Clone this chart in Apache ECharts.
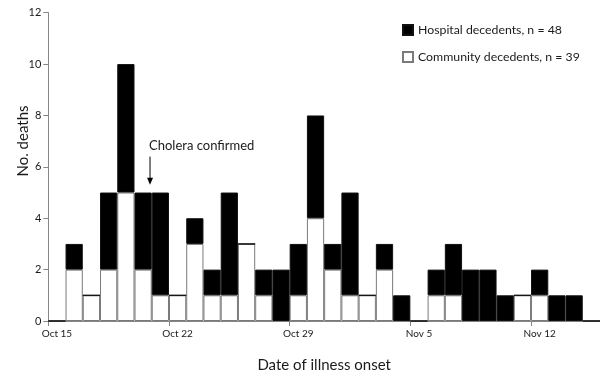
<!DOCTYPE html>
<html><head><meta charset="utf-8">
<script src="https://cdn.jsdelivr.net/npm/echarts@6/dist/echarts.min.js"></script>
<style>html,body{margin:0;padding:0;background:#fff}#c{width:600px;height:378px}</style>
</head><body><div id="c"></div>
<script>
// Days from Oct 15 to Nov 15 (one slot per day; Nov 15 slot is empty)
var days = ['Oct 15','Oct 16','Oct 17','Oct 18','Oct 19','Oct 20','Oct 21','Oct 22','Oct 23','Oct 24','Oct 25','Oct 26','Oct 27','Oct 28','Oct 29','Oct 30','Oct 31','Nov 1','Nov 2','Nov 3','Nov 4','Nov 5','Nov 6','Nov 7','Nov 8','Nov 9','Nov 10','Nov 11','Nov 12','Nov 13','Nov 14','Nov 15'];
var community = [0,2,1,2,5,2,1,1,3,1,1,3,1,0,1,4,2,1,1,2,0,0,1,1,0,0,0,1,1,0,0,0];
var hospital  = [0,1,0,3,5,3,4,0,1,1,4,0,1,2,2,4,1,4,0,1,1,0,1,2,2,2,1,0,1,1,1,0];
var legendNames = ['Hospital decedents, n = 48','Community decedents, n = 39'];
var annotationText = 'Cholera confirmed';
var yTitle = 'No. deaths';

var FONT = 'Lato';
var axisGray = '#868686';
var textColor = '#1a1a1a';

var chart = echarts.init(document.getElementById('c'), null, {renderer:'canvas'});
chart.setOption({
  animation:false,
  backgroundColor:'#fff',
  textStyle:{fontFamily:FONT},
  grid:{left:48.3, right:-4.5, top:12.7, bottom:56.7, containLabel:false},
  legend:{
    orient:'vertical', left:397, top:18.5, itemWidth:10, itemHeight:10, itemGap:14,
    icon:'rect', data:[legendNames[0], legendNames[1]],
    textStyle:{fontFamily:FONT, fontSize:12.3, lineHeight:13, color:textColor}
  },
  xAxis:{
    type:'category', data:days, boundaryGap:true,
    name:'Date of illness onset', nameLocation:'middle', nameGap:37,
    nameTextStyle:{fontFamily:FONT, fontSize:15, color:textColor},
    splitLine:{show:false},
    axisLine:{show:true, lineStyle:{color:axisGray, width:1}},
    axisTick:{show:true, length:5, interval:6, alignWithLabel:false, lineStyle:{color:axisGray}},
    axisLabel:{interval:6, fontFamily:FONT, fontSize:10, color:textColor, margin:8}
  },
  yAxis:{
    type:'value', min:0, max:12, interval:2,
    splitLine:{show:false},
    axisLine:{show:true, lineStyle:{color:axisGray, width:1}},
    axisTick:{show:true, length:5, lineStyle:{color:axisGray}},
    axisLabel:{fontFamily:FONT, fontSize:11, color:textColor, margin:7}
  },
  series:[
    {name:legendNames[1], type:'bar', stack:'d', data:community, barCategoryGap:'0%',
      itemStyle:{color:'#ffffff', borderColor:'#7a7a7a', borderWidth:1}},
    {name:legendNames[0], type:'bar', stack:'d', data:hospital, barCategoryGap:'0%',
      itemStyle:{color:'#000000', borderColor:'#111111', borderWidth:1}}
  ]
});
// annotation anchored to the Oct 20 slot
var a0 = chart.convertToPixel({gridIndex:0}, [5, 6.4]);
var a1 = chart.convertToPixel({gridIndex:0}, [5, 5.3]);
var a2 = chart.convertToPixel({gridIndex:0}, [6, 5.3]);
var slot = a2[0] - a1[0];
var ax = a0[0] + 0.4*slot;
var mid = chart.convertToPixel({gridIndex:0}, [0, 6.5]);
chart.setOption({graphic:[
  {type:'text', x:23, y:mid[1]-13, rotation:Math.PI/2,
    style:{text:yTitle, font:'15px '+FONT, fill:textColor, align:'center', verticalAlign:'middle'}},
  {type:'text', left:ax-1, top:a0[1]-17,
    style:{text:annotationText, font:'13px '+FONT, fill:textColor}},
  {type:'line', shape:{x1:ax, y1:a0[1], x2:ax, y2:a1[1]-6}, style:{stroke:'#000', lineWidth:1}},
  {type:'polygon', shape:{points:[[ax-3,a1[1]-7],[ax+3,a1[1]-7],[ax,a1[1]]]}, style:{fill:'#000'}}
]});
</script></body></html>
